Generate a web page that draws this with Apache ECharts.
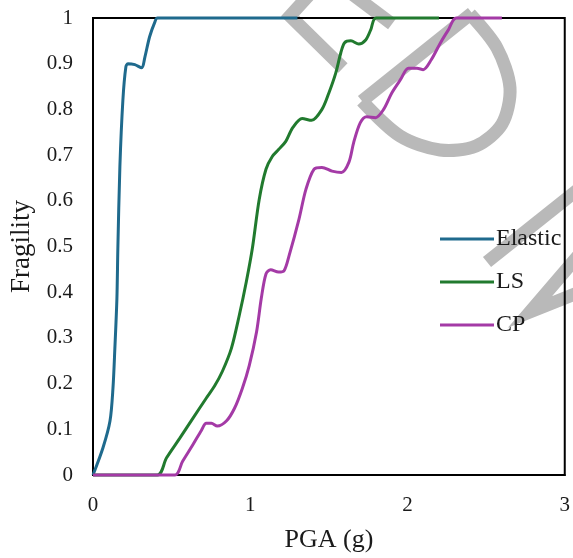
<!DOCTYPE html>
<html>
<head>
<meta charset="utf-8">
<script src="https://cdn.jsdelivr.net/npm/echarts@6/dist/echarts.min.js"></script>
<style>
  html, body { margin: 0; padding: 0; background: #fff; }
  #myChart { width: 573px; height: 558px; }
</style>
</head>
<body>
<div id="myChart"></div>
<script>
  // PGA (g) and fragility
  var elasticPga = [0, 0.063, 0.108, 0.127, 0.139, 0.152, 0.158, 0.171, 0.19, 0.209, 0.222, 0.266, 0.31, 0.329, 0.36, 0.392, 0.41, 1.3];
  var elasticFrag = [0, 0.059, 0.118, 0.19, 0.277, 0.386, 0.495, 0.675, 0.82, 0.893, 0.9, 0.898, 0.891, 0.913, 0.959, 0.99, 1, 1];

  var lsPga = [0, 0.41, 0.467, 0.551, 0.635, 0.72, 0.772, 0.823, 0.88, 0.93, 0.975, 1.013, 1.057, 1.1, 1.14, 1.18, 1.226, 1.27, 1.33, 1.39, 1.456, 1.5, 1.544, 1.576, 1.6, 1.64, 1.69, 1.734, 1.766, 1.8, 2.2];
  var lsFrag = [0, 0, 0.037, 0.08, 0.124, 0.168, 0.194, 0.227, 0.277, 0.349, 0.423, 0.495, 0.603, 0.669, 0.697, 0.712, 0.73, 0.76, 0.78, 0.776, 0.8, 0.836, 0.88, 0.924, 0.946, 0.95, 0.943, 0.952, 0.974, 1, 1];

  var cpPga = [0, 0.52, 0.57, 0.633, 0.69, 0.72, 0.753, 0.79, 0.848, 0.9, 0.95, 0.994, 1.04, 1.07, 1.1, 1.13, 1.18, 1.215, 1.247, 1.31, 1.354, 1.405, 1.456, 1.52, 1.58, 1.627, 1.658, 1.7, 1.74, 1.797, 1.848, 1.9, 1.955, 2.006, 2.06, 2.1, 2.15, 2.21, 2.26, 2.31, 2.6];
  var cpFrag = [0, 0, 0.03, 0.065, 0.098, 0.113, 0.113, 0.107, 0.118, 0.146, 0.19, 0.24, 0.313, 0.386, 0.44, 0.449, 0.444, 0.447, 0.48, 0.56, 0.625, 0.669, 0.673, 0.665, 0.662, 0.684, 0.728, 0.771, 0.784, 0.782, 0.8, 0.836, 0.865, 0.89, 0.89, 0.887, 0.908, 0.946, 0.974, 1, 1];

  var seriesNames = ['Elastic', 'LS', 'CP'];
  var seriesColors = ['#1f6a8d', '#217a2e', '#a43aa6'];

  function pairs(xs, ys) {
    return xs.map(function (x, i) { return [x, ys[i]]; });
  }

  var serif = '"Liberation Serif", "Times New Roman", serif';
  var myChart = echarts.init(document.getElementById('myChart'));

  function makeLine(idx, data) {
    return {
      name: seriesNames[idx],
      type: 'line',
      data: data,
      smooth: 0.3,
      symbol: 'none',
      clip: false,
      animation: false,
      color: seriesColors[idx],
      lineStyle: { width: 3, color: seriesColors[idx] }
    };
  }

  // grey watermark strokes behind the plot
  var wm = { stroke: '#b9b9b9', lineWidth: 13, fill: null, lineCap: 'butt', lineJoin: 'miter' };
  var option = {
    backgroundColor: '#fff',
    textStyle: { fontFamily: serif },
    graphic: [
      { type: 'polyline', z: -10, shape: { points: [[330, -28], [290, 16], [343, 68]] }, style: wm },
      { type: 'line', z: -10, shape: { x1: 352, y1: -6, x2: 392, y2: 24 }, style: wm },
      { type: 'line', z: -10, shape: { x1: 362, y1: 101, x2: 472, y2: 13 }, style: wm },
      { type: 'polyline', z: -10, shape: { points: [[470, 14], [497, 48], [510, 88], [502, 124], [476, 146], [440, 150], [400, 136], [362, 101]], smooth: 0.3 }, style: wm },
      { type: 'line', z: -10, shape: { x1: 487, y1: 262, x2: 585, y2: 184 }, style: wm },
      { type: 'polyline', z: -10, shape: { points: [[578, 256], [530, 312], [580, 292]] }, style: wm }
    ],
    grid: {
      left: 93,
      right: 6,
      top: 18,
      bottom: 81,
      show: true,
      borderColor: '#000',
      borderWidth: 2,
      backgroundColor: 'transparent'
    },
    legend: {
      data: seriesNames,
      orient: 'vertical',
      left: 435,
      top: 221,
      icon: 'rect',
      itemWidth: 54,
      itemHeight: 3,
      itemGap: 17,
      textStyle: { fontFamily: serif, fontSize: 24, lineHeight: 26, color: '#1a1a1a', padding: [0, 0, 0, -3] }
    },
    xAxis: {
      type: 'value',
      min: 0,
      max: 3,
      interval: 1,
      name: 'PGA (g)',
      nameLocation: 'middle',
      nameGap: 52,
      nameTextStyle: { fontFamily: serif, fontSize: 26, color: '#1a1a1a' },
      axisLine: { show: true, lineStyle: { color: '#000', width: 2 } },
      axisTick: { show: false },
      splitLine: { show: false },
      axisLabel: { fontFamily: serif, fontSize: 21, color: '#1a1a1a', margin: 20 }
    },
    yAxis: {
      type: 'value',
      min: 0,
      max: 1,
      interval: 0.1,
      name: 'Fragility',
      nameLocation: 'middle',
      nameGap: 58,
      nameTextStyle: { fontFamily: serif, fontSize: 27, color: '#1a1a1a' },
      axisLine: { show: true, lineStyle: { color: '#000', width: 2 } },
      axisTick: { show: false },
      splitLine: { show: false },
      axisLabel: { fontFamily: serif, fontSize: 21, color: '#1a1a1a', margin: 20 }
    },
    series: [
      makeLine(0, pairs(elasticPga, elasticFrag)),
      makeLine(1, pairs(lsPga, lsFrag)),
      makeLine(2, pairs(cpPga, cpFrag))
    ]
  };

  myChart.setOption(option);
</script>
</body>
</html>
